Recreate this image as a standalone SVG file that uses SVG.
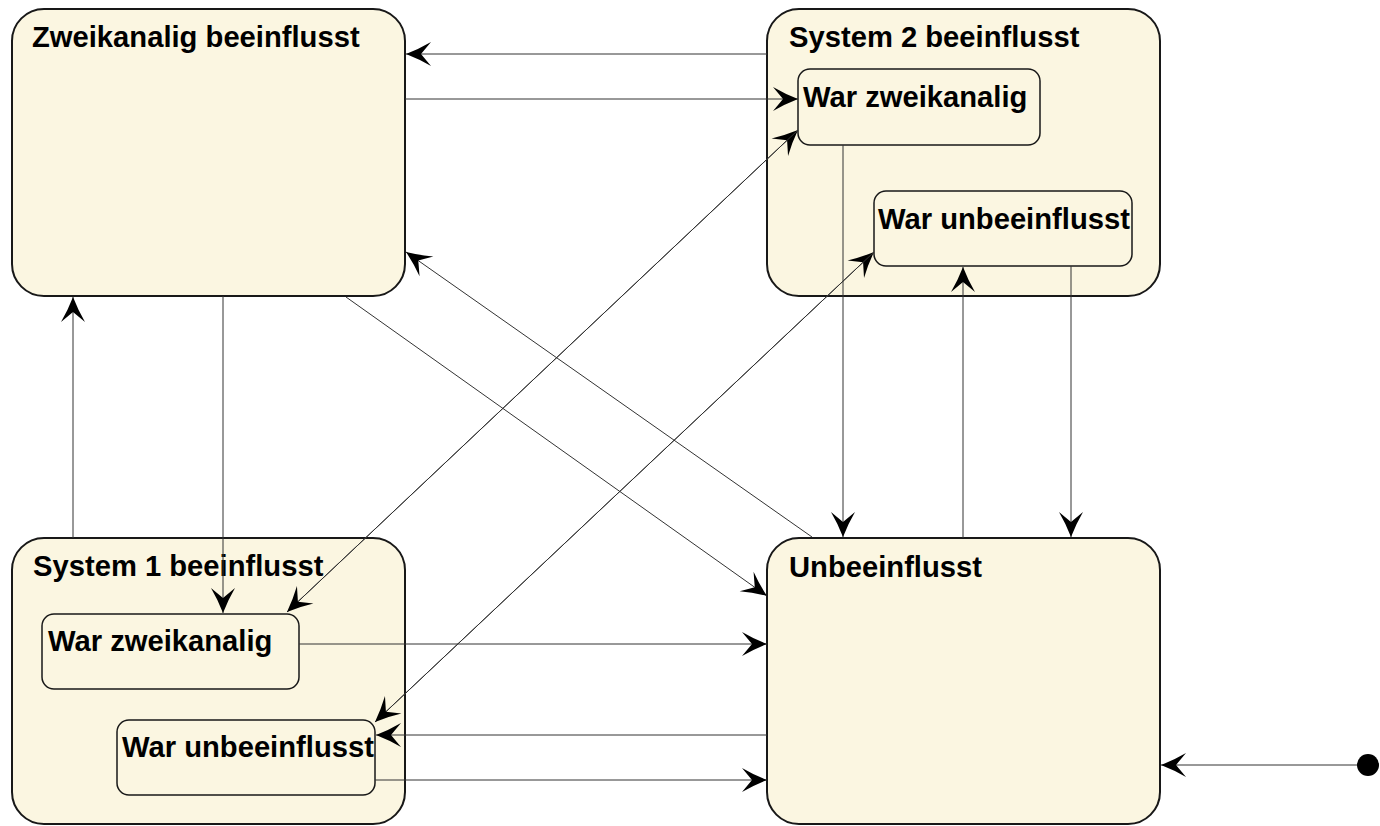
<svg xmlns="http://www.w3.org/2000/svg" width="1380" height="826" viewBox="0 0 1380 826">
<style>
.outer{fill:#FBF6E1;stroke:#181818;stroke-width:2}
.inner{fill:#FBF6E1;stroke:#181818;stroke-width:1.5}
.lbl{font-family:"Liberation Sans",Arial,sans-serif;font-weight:bold;font-size:29.2px;fill:#000}
.edge{fill:none;stroke:#333;stroke-width:1;marker-end:url(#arr)}
</style>
<defs>
<marker id="arr" markerUnits="userSpaceOnUse" viewBox="-26 -13 28 26" markerWidth="28" markerHeight="26" refX="0" refY="0" orient="auto">
<path d="M0,0 Q-13,-5 -25,-12 L-15,0 L-25,12 Q-13,5 0,0 Z" fill="#000"/>
</marker>
</defs>
<rect width="1380" height="826" fill="#fff"/>
<g id="zweikanalig">
<rect class="outer" x="12" y="9" width="393" height="287" rx="32" ry="32"/>
<text class="lbl" x="32" y="47">Zweikanalig beeinflusst</text>
</g>
<g id="system2">
<rect class="outer" x="767" y="9" width="393" height="287" rx="32" ry="32"/>
<text class="lbl" x="789" y="47">System 2 beeinflusst</text>
</g>
<g id="s2_zweikanalig">
<rect class="inner" x="798" y="69" width="242" height="76" rx="12" ry="12"/>
<text class="lbl" x="803" y="107">War zweikanalig</text>
</g>
<g id="s2_unbeeinflusst">
<rect class="inner" x="874" y="191" width="258" height="75" rx="12" ry="12"/>
<text class="lbl" x="878" y="229">War unbeeinflusst</text>
</g>
<g id="system1">
<rect class="outer" x="12" y="538" width="393" height="286" rx="32" ry="32"/>
<text class="lbl" x="33" y="576">System 1 beeinflusst</text>
</g>
<g id="s1_zweikanalig">
<rect class="inner" x="42" y="614" width="257" height="75" rx="12" ry="12"/>
<text class="lbl" x="48" y="651">War zweikanalig</text>
</g>
<g id="s1_unbeeinflusst">
<rect class="inner" x="117" y="720" width="258" height="75" rx="12" ry="12"/>
<text class="lbl" x="122" y="757">War unbeeinflusst</text>
</g>
<g id="unbeeinflusst">
<rect class="outer" x="767" y="538" width="393" height="286" rx="32" ry="32"/>
<text class="lbl" x="789" y="577">Unbeeinflusst</text>
</g>
<g id="start">
<circle cx="1368" cy="765" r="11" fill="#000"/>
</g>
<g id="connectors">
<path class="edge" d="M767,54 L406,54"/>
<path class="edge" d="M405,99 L798,99"/>
<path class="edge" d="M812,537 L406,252"/>
<path class="edge" d="M346,297 L767,596"/>
<path class="edge" d="M223,296 L223,613"/>
<path class="edge" d="M73,538 L73,297"/>
<path class="edge" d="M843,145 L843,537"/>
<path class="edge" d="M963,538 L963,267"/>
<path class="edge" d="M1071,266 L1071,537"/>
<path class="edge" d="M287,612 L798,130"/>
<path class="edge" d="M798,130 L287,612"/>
<path class="edge" d="M375,722 L874,252"/>
<path class="edge" d="M874,252 L375,722"/>
<path class="edge" d="M767,735 L376,735"/>
<path class="edge" d="M375,780 L767,780"/>
<path class="edge" d="M299,644 L767,644"/>
<path class="edge" d="M1357,765 L1161,765"/>
</g>
</svg>
